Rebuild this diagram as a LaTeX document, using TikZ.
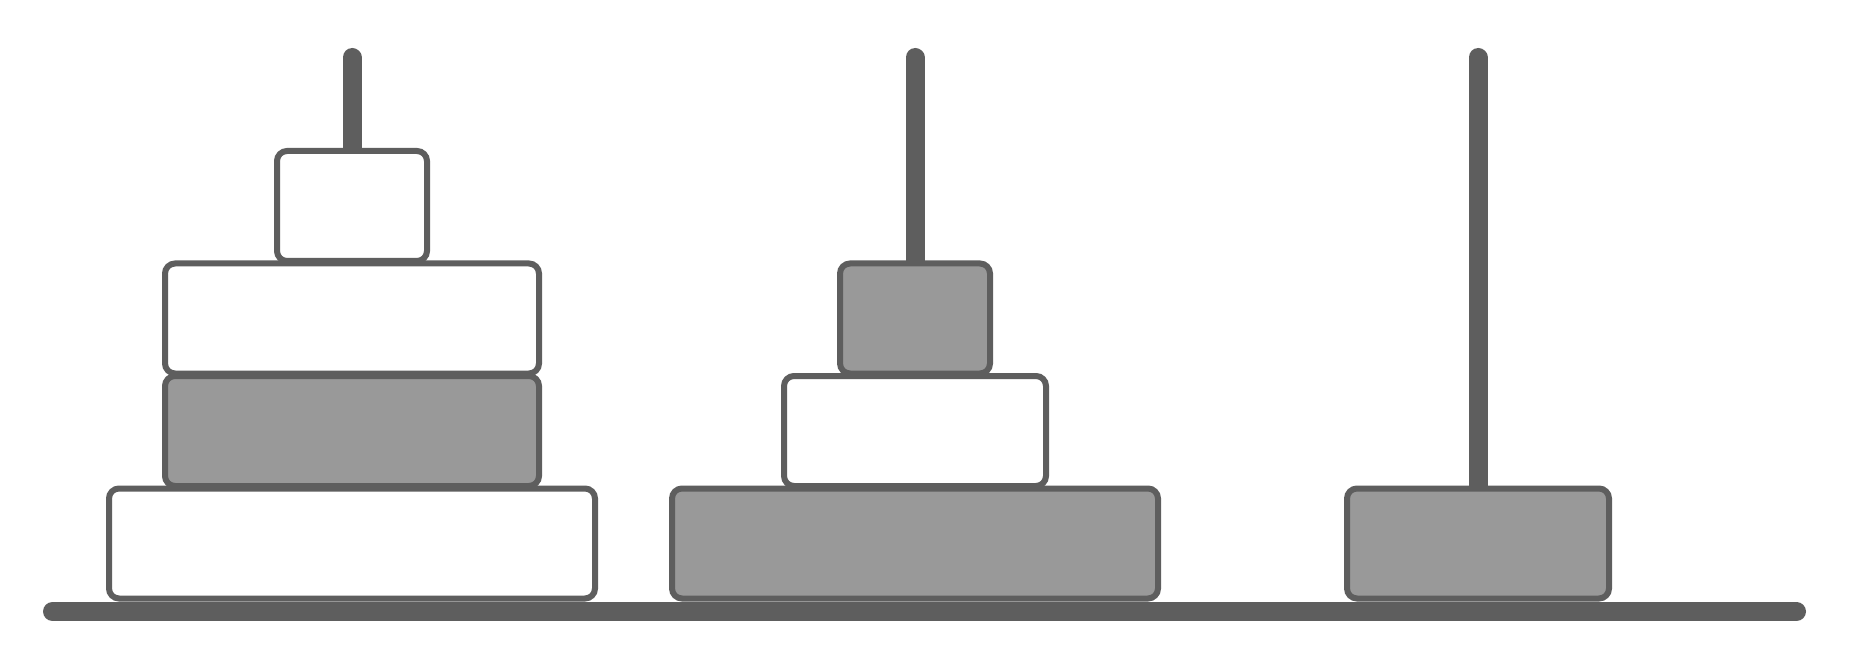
\documentclass[tikz,border=0pt]{standalone}
\definecolor{ink}{HTML}{5E5E5E}
\definecolor{diskgray}{HTML}{999999}
\tikzset{
  disk/.style={draw=ink, line width=6pt, rounded corners=10pt, inner sep=0pt,
               outer sep=0pt, anchor=north, minimum height=110pt},
  wdisk/.style={disk, fill=white},
  gdisk/.style={disk, fill=diskgray},
  szA/.style={minimum width=150pt},
  szB/.style={minimum width=262pt},
  szC/.style={minimum width=374pt},
  szD/.style={minimum width=486pt},
  rod/.style={draw=ink, line width=19pt, line cap=round},
}
\begin{document}
\begin{tikzpicture}[x=1pt,y=-1pt]
\useasboundingbox (0,0) rectangle (1853,660);
% pegs
\coordinate (t1) at (352,57.5);  \coordinate (b1) at (352,580);
\coordinate (t2) at (915,57.5);  \coordinate (b2) at (915,580);
\coordinate (t3) at (1478,57.5); \coordinate (b3) at (1478,580);
\draw[rod] (t1) -- (b1);
\draw[rod] (t2) -- (b2);
\draw[rod] (t3) -- (b3);
% ground
\coordinate (gl) at (52.5,611.5);
\coordinate (gr) at (1796.5,611.5);
\draw[rod] (gl) -- (gr);
% peg 1 disks
\node[wdisk,szD] (d1d) at (352,488.5) {};
\node[gdisk,szC] (d1c) at (352,376) {};
\node[wdisk,szC] (d1b) at (352,263.5) {};
\node[wdisk,szA] (d1a) at (352,151) {};
% peg 2 disks
\node[gdisk,szD] (d2c) at (915,488.5) {};
\node[wdisk,szB] (d2b) at (915,376) {};
\node[gdisk,szA] (d2a) at (915,263.5) {};
% peg 3 disk
\node[gdisk,szB] (d3a) at (1478,488.5) {};
\end{tikzpicture}
\end{document}
